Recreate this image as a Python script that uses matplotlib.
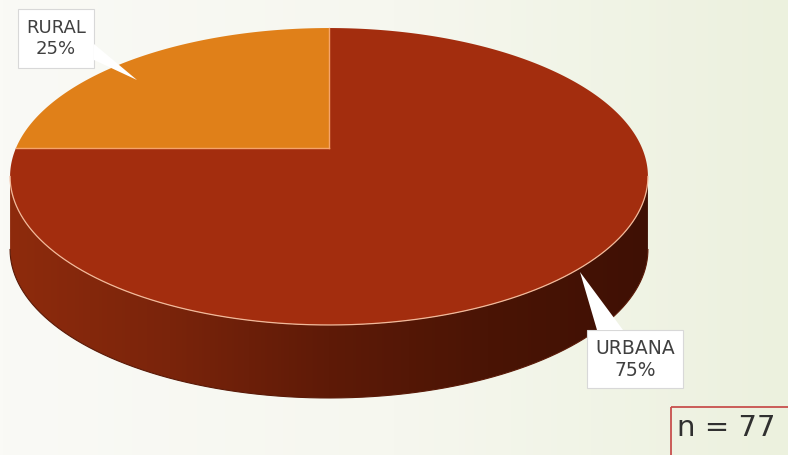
import numpy as np
import matplotlib
matplotlib.use("Agg")
import matplotlib.pyplot as plt
from matplotlib.patches import Polygon, Rectangle
from matplotlib.colors import LinearSegmentedColormap

# share of respondents by zone
categories = ["RURAL", "URBANA"]
shares = [25, 75]
label_texts = ["RURAL\n25%", "URBANA\n75%"]
sample_note = "n = 77"

W, H = 788, 455
CX, CY = 329, 148      # projected centre of the disc
A, B, K = 313, 143.0, 0.192   # projection of the unit disc
DEPTH = 73

top_colors = ["#E08019", "#A32D0E"]


def project(t, r=1.0):
    # perspective view of a point on the disc at angle t (radians, ccw from 3 o'clock)
    u, v = r * np.cos(t), r * np.sin(t)
    d = 1 + K * v
    return CX + A * u / d, CY - B * v / d


fig = plt.figure(figsize=(W / 100, H / 100), dpi=100)
ax = fig.add_axes([0, 0, 1, 1])
ax.set_xlim(0, W)
ax.set_ylim(H, 0)
ax.axis("off")

# soft background, whiter on the left, light green on the right
bg = LinearSegmentedColormap.from_list("bg", ["#FAFAF6", "#F6F7EF", "#ECF1DE"])
grad = np.linspace(0, 1, 256).reshape(1, -1)
ax.imshow(grad, cmap=bg, extent=[0, W, H, 0], aspect="auto", zorder=0)

# wedge angles, starting at 12 o'clock, first slice counter-clockwise
fracs = np.array(shares, dtype=float) / sum(shares)
starts = np.pi / 2 + 2 * np.pi * np.concatenate([[0], np.cumsum(fracs)[:-1]])
ends = starts + 2 * np.pi * fracs

# side wall: front half of the rim, between the two silhouette points
t_left = np.pi + np.arcsin(K)
t_right = 2 * np.pi - np.arcsin(K)
ts = np.linspace(t_left, t_right, 300)
xs, ys = project(ts)
side_pts = np.vstack([np.column_stack([xs, ys]),
                      np.column_stack([xs[::-1], ys[::-1] + DEPTH])])
side = Polygon(side_pts, closed=True, facecolor="none", edgecolor="none", zorder=2)
ax.add_patch(side)
side_cmap = LinearSegmentedColormap.from_list(
    "side", ["#8E2B0D", "#7A240B", "#5E1A07", "#4A1405", "#3F1004"])
sg = ax.imshow(grad, cmap=side_cmap, extent=[xs.min(), xs.max(), H, 0],
               aspect="auto", zorder=2)
sg.set_clip_path(side)
ax.plot(xs, ys + DEPTH, color="#5A1A08", lw=0.8, zorder=2)

# top face wedges
for a0, a1, col in zip(starts, ends, top_colors):
    tt = np.linspace(a0, a1, 400)
    px, py = project(tt)
    pts = np.vstack([[CX, CY], np.column_stack([px, py])])
    ax.add_patch(Polygon(pts, closed=True, facecolor=col, edgecolor="none", zorder=3))

# light seams between slices and along the front rim
for a in starts:
    ex, ey = project(a)
    ax.plot([CX, ex], [CY, ey], color="#F6A46A", lw=1.0, zorder=4)
ax.plot(xs, ys, color="#F2B99A", lw=0.9, zorder=4)

# data labels with callout pointers
box_specs = [
    dict(xy=(18, 9), w=76, h=59, tip=(137, 80), base=((94, 44), (94, 60)), fs=13),
    dict(xy=(587, 330), w=96, h=58, tip=(580, 272), base=((597, 330), (623, 330)), fs=13.5),
]
for spec, txt in zip(box_specs, label_texts):
    x0, y0 = spec["xy"]
    ax.add_patch(Rectangle((x0, y0), spec["w"], spec["h"], facecolor="white",
                           edgecolor="#D8D8D8", lw=0.8, zorder=6))
    (bx0, by0), (bx1, by1) = spec["base"]
    ax.add_patch(Polygon([(bx0, by0), spec["tip"], (bx1, by1)], closed=True,
                         facecolor="white", edgecolor="none", zorder=6))
    ax.text(x0 + spec["w"] / 2, y0 + spec["h"] / 2, txt, ha="center", va="center",
            fontsize=spec["fs"], color="#404040", family="DejaVu Sans",
            linespacing=1.2, zorder=7)

# sample size box
ax.add_patch(Rectangle((671, 407), 130, 60, facecolor="none",
                       edgecolor="#C8504D", lw=1.3, zorder=6))
ax.text(677, 428, sample_note, ha="left", va="center", fontsize=21,
        color="#303030", family="DejaVu Sans", zorder=7)

fig.savefig("out.png", dpi=100)
